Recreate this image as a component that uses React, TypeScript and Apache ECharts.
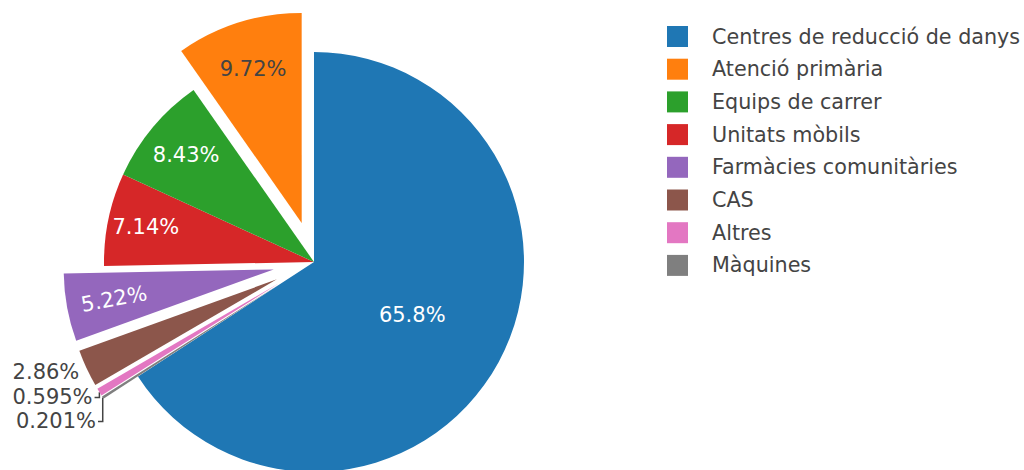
import React, { useEffect, useRef } from "react";
import * as echarts from "echarts";

// ---- data (clockwise from 12 o'clock) ----
const categories = [
  "Centres de reducció de danys",
  "Màquines",
  "Altres",
  "CAS",
  "Farmàcies comunitàries",
  "Unitats mòbils",
  "Equips de carrer",
  "Atenció primària",
];
const values = [65.8, 0.201, 0.595, 2.86, 5.22, 7.14, 8.43, 9.72];
const legendOrder = [
  "Centres de reducció de danys",
  "Atenció primària",
  "Equips de carrer",
  "Unitats mòbils",
  "Farmàcies comunitàries",
  "CAS",
  "Altres",
  "Màquines",
];

// ---- style ----
const colors = ["#1f77b4", "#7f7f7f", "#e377c2", "#8c564b", "#9467bd", "#d62728", "#2ca02c", "#ff7f0e"];
const pulled = [false, true, true, true, true, false, false, true];
// h: horizontal inside, r: radial inside, o: outside
const labelMode = ["h", "o", "o", "o", "r", "h", "h", "h"];
const leaderLine = [false, true, true, false, false, false, false, false];
const insideTextColor = ["#fff", "#444", "#444", "#444", "#fff", "#fff", "#fff", "#444"];
const CX = 314;
const CY = 262;
const R = 210;
const PULL = 41;
const FONT = 21;
const LEGEND_FONT = 20.7;
const FAMILY = "'DejaVu Sans', Verdana, sans-serif";
const TEXT_H = FONT * 1.3;
const OUT_GAP_X = 8;
const OUT_GAP_Y = 10;
const OUT_LINE = 24;

const total = values.reduce((a, b) => a + b, 0);
const starts: number[] = [];
{
  let acc = 0;
  values.forEach((v) => {
    starts.push(acc);
    acc += v;
  });
}

function geom(i: number) {
  const a0 = (starts[i] / total) * 2 * Math.PI;
  const a1 = ((starts[i] + values[i]) / total) * 2 * Math.PI;
  const mid = (a0 + a1) / 2;
  const half = (a1 - a0) / 2;
  const dx = Math.sin(mid);
  const dy = -Math.cos(mid);
  const off = pulled[i] ? PULL : 0;
  return { mid, half, dx, dy, vx: CX + off * dx, vy: CY + off * dy };
}

// pre-compute outside label positions (pushed apart vertically)
const outsidePos: Record<number, { ox: number; oy: number; xr: number; yc: number }> = {};
{
  const list = labelMode
    .map((m, i) => ({ m, i }))
    .filter((d) => d.m === "o")
    .map(({ i }) => {
      const g = geom(i);
      const ox = g.vx + R * g.dx;
      const oy = g.vy + R * g.dy;
      return { i, ox, oy, xr: ox + OUT_GAP_X * g.dx, yc: oy + OUT_GAP_Y * g.dy };
    })
    .sort((a, b) => a.yc - b.yc);
  for (let k = 1; k < list.length; k++) {
    if (list[k].yc < list[k - 1].yc + OUT_LINE) list[k].yc = list[k - 1].yc + OUT_LINE;
  }
  list.forEach((d) => (outsidePos[d.i] = d));
}

function labelLayout(params: any) {
  const i = params.seriesIndex;
  const g = geom(i);
  const mode = labelMode[i];
  if (mode === "o") {
    const p = outsidePos[i];
    const res: any = { x: p.xr, y: p.yc, align: "right", verticalAlign: "middle" };
    if (leaderLine[i]) {
      res.labelLinePoints = [
        [p.ox, p.oy],
        [p.ox, p.yc],
        [p.xr + 2, p.yc],
      ];
    }
    return res;
  }
  const w = params.labelRect ? params.labelRect.width : 60;
  let rC: number;
  let rot = 0;
  if (mode === "h") {
    const rIn = Math.min(1 / (1 + 1 / Math.sin(g.half)), 0.5);
    rC = 1 - rIn;
  } else {
    const a = w / TEXT_H;
    const q = a + 1 / (2 * Math.tan(g.half));
    const rr = R - 6;
    const s = rr * Math.min(1 / (Math.sqrt(q * q + 0.5) + q), 1 / (Math.sqrt(a * a + 0.5) + a));
    const b = s / rr;
    rC = Math.cos(b) - a * b;
    const deg = (g.mid * 180) / Math.PI;
    rot = deg < 180 ? 90 - deg : 270 - deg;
  }
  return {
    x: g.vx + rC * R * g.dx,
    y: g.vy + rC * R * g.dy,
    align: "center",
    verticalAlign: "middle",
    rotate: rot,
  };
}

const blank = {
  itemStyle: { color: "rgba(0,0,0,0)", borderWidth: 0 },
  label: { show: false },
  labelLine: { show: false },
};

export default function App() {
  const ref = useRef<HTMLDivElement>(null);
  useEffect(() => {
    if (!ref.current) return;
    const chart = echarts.init(ref.current, undefined, { renderer: "svg" });
    const series = categories.map((name, i) => {
      const g = geom(i);
      const before = starts[i];
      const after = total - starts[i] - values[i];
      return {
        type: "pie",
        center: [g.vx, g.vy],
        radius: R,
        startAngle: 90,
        clockwise: true,
        silent: true,
        avoidLabelOverlap: false,
        emphasis: { disabled: true },
        itemStyle: { borderWidth: 0 },
        label: {
          show: true,
          fontFamily: FAMILY,
          fontSize: FONT,
          formatter: (p: any) => ((p.value / total) * 100).toPrecision(3) + "%",
        },
        labelLine: { show: true, lineStyle: { color: "#444", width: 1.5 } },
        labelLayout,
        data: [
          { name: "_b" + i, value: before, ...blank },
          {
            name,
            value: values[i],
            itemStyle: { color: colors[i] },
            label: {
              position: labelMode[i] === "o" ? "outside" : "inside",
              color: labelMode[i] === "o" ? "#444" : insideTextColor[i],
            },
            labelLine: { show: labelMode[i] === "o" && leaderLine[i] },
          },
          { name: "_a" + i, value: after, ...blank },
        ],
      };
    });
    chart.setOption({
      animation: false,
      legend: {
        orient: "vertical",
        left: 667,
        top: 26,
        padding: 0,
        itemWidth: 21,
        itemHeight: 21,
        itemGap: 11.7,
        icon: "rect",
        data: legendOrder,
        selectedMode: false,
        textStyle: { fontFamily: FAMILY, fontSize: LEGEND_FONT, color: "#444", padding: [0, 0, 0, 19] },
      },
      series,
    });
    return () => chart.dispose();
  }, []);
  return (
    <div
      ref={ref}
      style={{ position: "absolute", left: 0, top: 0, width: 1024, height: 470, background: "#fff" }}
    />
  );
}
